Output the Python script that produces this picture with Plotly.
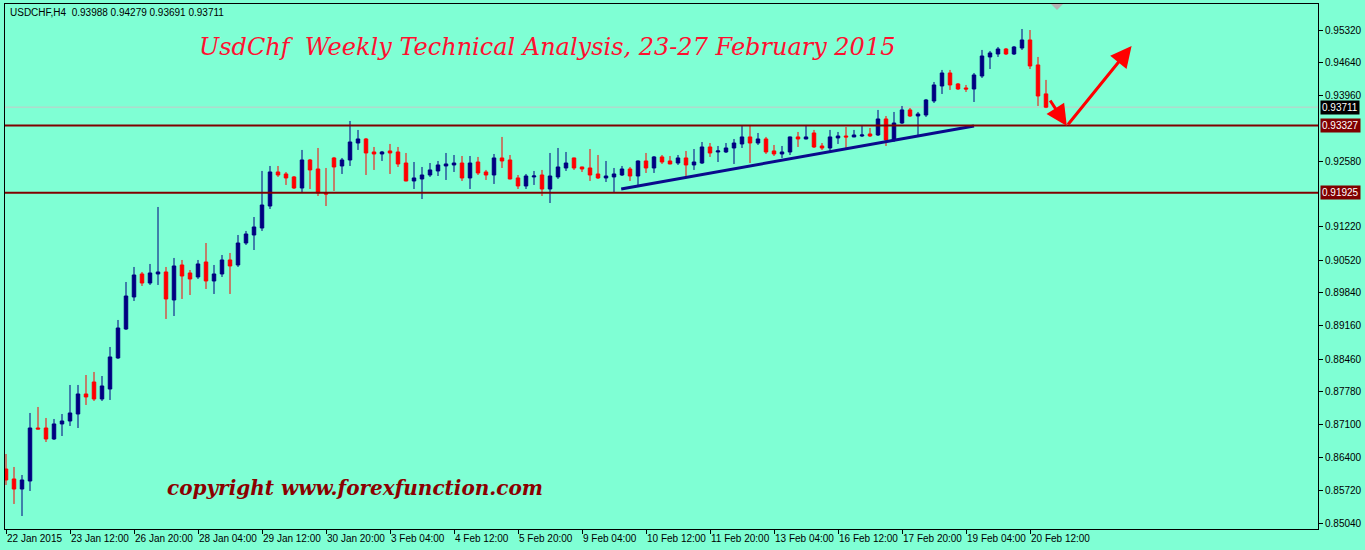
import plotly.graph_objects as go

# ---------------- data ----------------
open_ = [0.86167, 0.85959, 0.85750, 0.85917, 0.87022, 0.87022, 0.86793, 0.87106, 0.87168, 0.87314,
         0.87731, 0.87981, 0.87627, 0.87835, 0.88482, 0.89086, 0.89754, 0.90233, 0.90045, 0.90233,
         0.90275, 0.89691, 0.90421, 0.90254, 0.90171, 0.90483, 0.90087, 0.90233, 0.90525, 0.90421,
         0.90879, 0.91046, 0.91192, 0.91650, 0.92360, 0.92318, 0.92256, 0.92026, 0.92610, 0.92422,
         0.91922, 0.92652, 0.92485, 0.92610, 0.92964, 0.93048, 0.92777, 0.92735, 0.92798, 0.92777,
         0.92547, 0.92172, 0.92214, 0.92297, 0.92381, 0.92485, 0.92506, 0.92547, 0.92235, 0.92568,
         0.92360, 0.92297, 0.92652, 0.92610, 0.92235, 0.92068, 0.92256, 0.92297, 0.92005, 0.92256,
         0.92443, 0.92652, 0.92464, 0.92443, 0.92318, 0.92235, 0.92256, 0.92297, 0.92422, 0.92276,
         0.92589, 0.92443, 0.92673, 0.92589, 0.92547, 0.92652, 0.92506, 0.92547, 0.92881, 0.92777,
         0.92777, 0.92860, 0.92944, 0.93090, 0.92964, 0.93048, 0.92798, 0.92735, 0.92777, 0.93090,
         0.93048, 0.93173, 0.92902, 0.92860, 0.93069, 0.93110, 0.93090, 0.93110, 0.93152, 0.93131,
         0.93465, 0.93027, 0.93381, 0.93653, 0.93527, 0.93548, 0.93840, 0.94153, 0.94424, 0.94195,
         0.94111, 0.94090, 0.94361, 0.94758, 0.94820, 0.94924, 0.94820, 0.94945, 0.95112, 0.94591,
         0.93988]
high = [0.86480, 0.86209, 0.86042, 0.87335, 0.87460, 0.87231, 0.87210, 0.87314, 0.87919, 0.87919,
        0.88127, 0.88190, 0.88106, 0.88711, 0.89274, 0.90066, 0.90379, 0.90275, 0.90442, 0.91630,
        0.90379, 0.90567, 0.90525, 0.90316, 0.90525, 0.90879, 0.90421, 0.90629, 0.90671, 0.91046,
        0.91130, 0.91421, 0.92381, 0.92485, 0.92485, 0.92360, 0.92276, 0.92819, 0.92631, 0.92860,
        0.92443, 0.92673, 0.92652, 0.93423, 0.93236, 0.93069, 0.92881, 0.92798, 0.92944, 0.92881,
        0.92756, 0.92568, 0.92464, 0.92547, 0.92589, 0.92756, 0.92714, 0.92693, 0.92693, 0.92673,
        0.92402, 0.92735, 0.93090, 0.92714, 0.92297, 0.92318, 0.92381, 0.92402, 0.92756, 0.92860,
        0.92777, 0.92660, 0.92470, 0.92839, 0.92714, 0.92589, 0.92443, 0.92485, 0.92464, 0.92600,
        0.92756, 0.92693, 0.92714, 0.92693, 0.92714, 0.92798, 0.92839, 0.92985, 0.92964, 0.92902,
        0.92964, 0.93048, 0.93319, 0.93340, 0.93173, 0.93090, 0.92923, 0.92902, 0.93100, 0.93194,
        0.93340, 0.93236, 0.92964, 0.93236, 0.93194, 0.93298, 0.93236, 0.93340, 0.93277, 0.93653,
        0.93527, 0.93611, 0.93736, 0.93694, 0.93611, 0.93882, 0.94236, 0.94487, 0.94487, 0.94215,
        0.94174, 0.94424, 0.94904, 0.94883, 0.94966, 0.94945, 0.94987, 0.95341, 0.95320, 0.94758,
        0.94279]
low = [0.85834, 0.85438, 0.85187, 0.85709, 0.86995, 0.86730, 0.86772, 0.86855, 0.87064, 0.87022,
       0.87502, 0.87585, 0.87585, 0.87606, 0.88461, 0.89066, 0.89670, 0.89983, 0.90004, 0.90004,
       0.89295, 0.89357, 0.89712, 0.89795, 0.90129, 0.89920, 0.89816, 0.90171, 0.89816, 0.90379,
       0.90838, 0.90733, 0.91130, 0.91588, 0.92256, 0.92089, 0.92005, 0.91922, 0.92005, 0.91859,
       0.91650, 0.91964, 0.92318, 0.92485, 0.92819, 0.92297, 0.92402, 0.92589, 0.92318, 0.92464,
       0.92165, 0.92005, 0.91796, 0.92256, 0.92276, 0.92193, 0.92360, 0.92172, 0.92005, 0.92297,
       0.92193, 0.92110, 0.92443, 0.92205, 0.92005, 0.92005, 0.92089, 0.91859, 0.91713, 0.92214,
       0.92381, 0.92402, 0.92360, 0.92172, 0.92214, 0.92151, 0.91922, 0.92276, 0.92172, 0.92089,
       0.92339, 0.92339, 0.92527, 0.92520, 0.92506, 0.92256, 0.92402, 0.92527, 0.92673, 0.92568,
       0.92756, 0.92527, 0.92860, 0.92547, 0.92923, 0.92735, 0.92693, 0.92652, 0.92714, 0.92881,
       0.93040, 0.92860, 0.92819, 0.92777, 0.92944, 0.92819, 0.93085, 0.93090, 0.93090, 0.93110,
       0.92902, 0.92985, 0.93361, 0.93507, 0.93110, 0.93507, 0.93798, 0.93986, 0.94070, 0.94070,
       0.94028, 0.93819, 0.94320, 0.94507, 0.94758, 0.94799, 0.94799, 0.94904, 0.94507, 0.93736,
       0.93691]
close = [0.85938, 0.85750, 0.85938, 0.87022, 0.87001, 0.86793, 0.87106, 0.87168, 0.87335, 0.87731,
         0.87669, 0.87627, 0.87898, 0.88503, 0.89107, 0.89774, 0.90212, 0.90045, 0.90254, 0.90275,
         0.89712, 0.90400, 0.90191, 0.90129, 0.90442, 0.90087, 0.90233, 0.90525, 0.90400, 0.90879,
         0.91067, 0.91213, 0.91671, 0.92360, 0.92297, 0.92235, 0.92026, 0.92610, 0.92402, 0.91922,
         0.91901, 0.92464, 0.92610, 0.92985, 0.93048, 0.92756, 0.92735, 0.92777, 0.92756, 0.92527,
         0.92172, 0.92235, 0.92297, 0.92402, 0.92506, 0.92527, 0.92547, 0.92235, 0.92547, 0.92339,
         0.92297, 0.92652, 0.92589, 0.92214, 0.92068, 0.92276, 0.92276, 0.92005, 0.92276, 0.92464,
         0.92547, 0.92443, 0.92422, 0.92297, 0.92235, 0.92276, 0.92318, 0.92422, 0.92276, 0.92589,
         0.92443, 0.92673, 0.92568, 0.92527, 0.92652, 0.92506, 0.92568, 0.92881, 0.92756, 0.92798,
         0.92860, 0.92964, 0.93090, 0.92964, 0.93048, 0.92777, 0.92735, 0.92777, 0.93090, 0.93048,
         0.93090, 0.92881, 0.92860, 0.93090, 0.93110, 0.93090, 0.93131, 0.93131, 0.93110, 0.93465,
         0.93027, 0.93381, 0.93653, 0.93527, 0.93569, 0.93861, 0.94174, 0.94424, 0.94174, 0.94090,
         0.94090, 0.94382, 0.94778, 0.94841, 0.94924, 0.94820, 0.94966, 0.95112, 0.94570, 0.93944,
         0.93711]

bar_index = list(range(len(close)))

time_tick_bars = [0, 8, 16, 24, 32, 40, 48, 56, 64, 72, 80, 88, 96, 104, 112, 120, 128]
time_tick_labels = ["22 Jan 2015", "23 Jan 12:00", "26 Jan 20:00", "28 Jan 04:00", "29 Jan 12:00",
                    "30 Jan 20:00", "3 Feb 04:00", "4 Feb 12:00", "5 Feb 20:00", "9 Feb 04:00",
                    "10 Feb 12:00", "11 Feb 20:00", "13 Feb 04:00", "16 Feb 12:00", "17 Feb 20:00",
                    "19 Feb 04:00", "20 Feb 12:00"]

price_ticks = [0.95320, 0.94640, 0.93960, 0.92580, 0.91220, 0.90520, 0.89840, 0.89160,
               0.88460, 0.87780, 0.87100, 0.86400, 0.85720, 0.85040]
price_tick_labels = ["0.95320", "0.94640", "0.93960", "0.92580", "0.91220", "0.90520", "0.89840",
                     "0.89160", "0.88460", "0.87780", "0.87100", "0.86400", "0.85720", "0.85040"]

resistance_level = 0.93327
support_level = 0.91925
last_price = 0.93711

trend_bars = [76.9, 121.0]
trend_prices = [0.92005, 0.93319]

arrow_down_bars = [130.4, 132.6]
arrow_down_prices = [0.93882, 0.93319]
arrow_up_bars = [132.6, 140.7]
arrow_up_prices = [0.93319, 0.94987]

symbol_header = "USDCHF,H4  0.93988 0.94279 0.93691 0.93711"
title_text = "UsdChf  Weekly Technical Analysis, 23-27 February 2015"
copyright_text = "copyright www.forexfunction.com"

# ---------------- layout geometry ----------------
W, H = 1365, 550
ML, MR, MT, MB = 5, 47, 4, 21
PW, PH = W - ML - MR, H - MT - MB
BG = "#7FFFD4"
BULL = "#000080"
BEAR = "#FF0000"
LEVEL = "#800000"


def px_x(px):
    return (px - ML) / PW


def px_y(py):
    return 1 - (py - MT) / PH


fig = go.Figure()

fig.add_trace(go.Candlestick(
    x=bar_index, open=open_, high=high, low=low, close=close,
    increasing=dict(line=dict(color=BULL, width=1), fillcolor=BULL),
    decreasing=dict(line=dict(color=BEAR, width=1), fillcolor=BEAR),
    whiskerwidth=0, hoverinfo="skip", showlegend=False,
))

# trend line
fig.add_trace(go.Scatter(
    x=trend_bars, y=trend_prices, mode="lines",
    line=dict(color="#0A0A8C", width=3), hoverinfo="skip", showlegend=False,
))

shapes = []
# last price line (light)
shapes.append(dict(type="line", xref="paper", x0=0, x1=1, yref="y", y0=last_price, y1=last_price,
                   line=dict(color="#C8C8C8", width=1), layer="below"))
for lvl in (resistance_level, support_level):
    shapes.append(dict(type="line", xref="paper", x0=0, x1=1, yref="y", y0=lvl, y1=lvl,
                       line=dict(color=LEVEL, width=2), layer="above"))
# chart-shift marker (small grey triangle at the top)
shapes.append(dict(type="path", xref="paper", yref="paper",
                   path="M %f %f L %f %f L %f %f Z" % (px_x(1051), px_y(4), px_x(1063), px_y(4),
                                                        px_x(1057), px_y(10)),
                   fillcolor="#B4B4B4", line=dict(width=0)))

annotations = []
# arrows
for bx, py in ((arrow_down_bars, arrow_down_prices), (arrow_up_bars, arrow_up_prices)):
    annotations.append(dict(
        x=bx[1], y=py[1], ax=bx[0], ay=py[0], xref="x", yref="y", axref="x", ayref="y",
        text="", showarrow=True, arrowhead=2, arrowsize=1.4, arrowwidth=3, arrowcolor=BEAR,
    ))

# header
annotations.append(dict(x=px_x(8), y=px_y(12), xref="paper", yref="paper", text=symbol_header,
                        showarrow=False, xanchor="left", yanchor="middle",
                        font=dict(family="Liberation Sans", size=10, color="black")))
# title
annotations.append(dict(x=px_x(547), y=px_y(47), xref="paper", yref="paper", text=title_text,
                        showarrow=False, xanchor="center", yanchor="middle",
                        font=dict(family="DejaVu Serif", size=24, color="#FF1030", style="italic")))
# copyright
annotations.append(dict(x=px_x(165), y=px_y(488), xref="paper", yref="paper", text=copyright_text,
                        showarrow=False, xanchor="left", yanchor="middle",
                        font=dict(family="DejaVu Serif", size=20, color="#8B0000",
                                  style="italic", weight="bold")))

# price boxes on the right axis
for lvl, bg, fg in ((last_price, "#000000", "#FFFFFF"),
                    (resistance_level, LEVEL, "#FFFFFF"),
                    (support_level, LEVEL, "#FFFFFF")):
    annotations.append(dict(x=1, y=lvl, xref="paper", yref="y", text="%.5f" % lvl,
                            showarrow=False, xanchor="left", yanchor="middle", xshift=2,
                            bgcolor=bg, borderpad=1,
                            font=dict(family="Liberation Sans", size=10, color=fg)))

fig.update_layout(
    width=W, height=H,
    margin=dict(l=ML, r=MR, t=MT, b=MB, autoexpand=False),
    paper_bgcolor=BG, plot_bgcolor=BG,
    showlegend=False, hovermode=False,
    boxgap=0.38,
    shapes=shapes, annotations=annotations,
    xaxis=dict(
        range=[-0.125, 164.0], rangeslider=dict(visible=False), automargin=False,
        tickmode="array", tickvals=time_tick_bars, ticktext=time_tick_labels, tickangle=0,
        ticks="outside", ticklen=4, tickcolor="black", ticklabelposition="outside right",
        tickfont=dict(family="Liberation Sans", size=10, color="black"),
        showgrid=False, zeroline=False, showline=True, linecolor="black", linewidth=1, mirror=True,
    ),
    yaxis=dict(
        range=[0.84916, 0.95862], side="right", automargin=False,
        tickmode="array", tickvals=price_ticks, ticktext=price_tick_labels,
        ticks="outside", ticklen=4, tickcolor="black",
        tickfont=dict(family="Liberation Sans", size=10, color="black"),
        showgrid=False, zeroline=False, showline=True, linecolor="black", linewidth=1, mirror=True,
    ),
)

fig.write_html(
    "out.html",
    config={"displayModeBar": False},
    post_script="document.body.style.margin='0';document.body.style.overflow='hidden';"
                "document.body.style.background='%s';" % BG,
)
